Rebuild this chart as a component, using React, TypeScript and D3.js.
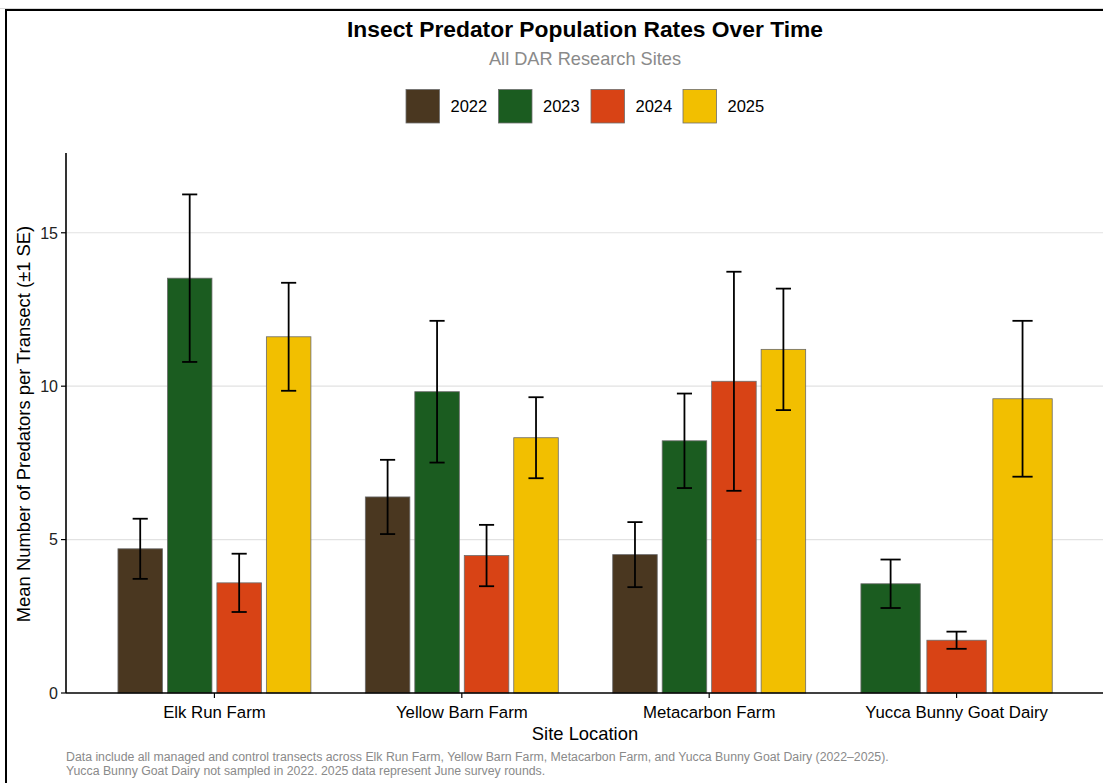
import React from "react";
import * as d3 from "d3";

const sites = ["Elk Run Farm", "Yellow Barn Farm", "Metacarbon Farm", "Yucca Bunny Goat Dairy"];
const years = ["2022", "2023", "2024", "2025"];
const yearColors = ["#4a3720", "#1b5c20", "#d84315", "#f2bf00"];

// mean per site, one array per year (null = not sampled)
const mean2022 = [4.7, 6.39, 4.51, null];
const mean2023 = [13.52, 9.82, 8.22, 3.56];
const mean2024 = [3.59, 4.48, 10.16, 1.72];
const mean2025 = [11.61, 8.32, 11.2, 9.59];

// standard error per site
const se2022 = [0.98, 1.21, 1.06, null];
const se2023 = [2.73, 2.31, 1.54, 0.79];
const se2024 = [0.95, 1.0, 3.57, 0.28];
const se2025 = [1.76, 1.32, 1.98, 2.54];

const yTicks = [0, 5, 10, 15];

const title = "Insect Predator Population Rates Over Time";
const subtitle = "All DAR Research Sites";
const xTitle = "Site Location";
const yTitle = "Mean Number of Predators per Transect (±1 SE)";
const caption1 =
  "Data include all managed and control transects across Elk Run Farm, Yellow Barn Farm, Metacarbon Farm, and Yucca Bunny Goat Dairy (2022–2025).";
const caption2 = "Yucca Bunny Goat Dairy not sampled in 2022. 2025 data represent June survey rounds.";

const W = 1103;
const H = 783;
const FONT = "'Liberation Sans', Arial, Helvetica, sans-serif";

export default function App() {
  const left = 66;
  const right = 1105;
  const top = 153;
  const bottom = 693;

  const means = [mean2022, mean2023, mean2024, mean2025];
  const ses = [se2022, se2023, se2024, se2025];

  const x = d3.scalePoint<string>().domain(sites).range([left, right]).padding(0.6);
  const y = d3.scaleLinear().domain([0, 17.6]).range([bottom, top]);
  const groupW = x.step() * 0.8;

  const bars: any[] = [];
  sites.forEach((s, si) => {
    const present = years.map((yr, yi) => yi).filter((yi) => means[yi][si] != null);
    const slot = groupW / present.length;
    const inner = d3.scaleBand<number>().domain(present).range([x(s)! - groupW / 2, x(s)! + groupW / 2]);
    present.forEach((yi) => {
      const m = means[yi][si] as number;
      const e = ses[yi][si] as number;
      const cx = inner(yi)! + inner.bandwidth() / 2;
      bars.push({ key: s + yi, cx, w: slot * 0.9, m, e, color: yearColors[yi] });
    });
  });

  const legendX = [406, 498.5, 591, 683];

  return (
    <svg width={W} height={H} style={{ position: "absolute", left: 0, top: 0 }} fontFamily={FONT}>
      <rect x={0} y={0} width={W} height={H} fill="#fff" />
      <line x1={0} x2={W} y1={8.5} y2={8.5} stroke="#d8d8d8" />
      <rect x={6} y={10} width={W + 20} height={H + 20} fill="none" stroke="#000" strokeWidth={2} />

      {/* title block */}
      <text x={585} y={37} textAnchor="middle" fontSize={22.8} fontWeight="bold" fill="#000">
        {title}
      </text>
      <text x={585} y={65} textAnchor="middle" fontSize={18.2} fill="#8a8a8a">
        {subtitle}
      </text>

      {/* legend */}
      {years.map((yr, i) => (
        <g key={yr}>
          <rect x={legendX[i]} y={89.5} width={33.5} height={33.5} fill={yearColors[i]} stroke="#6e6e6e" strokeWidth={0.8} />
          <text x={legendX[i] + 44.5} y={112} fontSize={16.5} fill="#000">
            {yr}
          </text>
        </g>
      ))}

      {/* grid */}
      {yTicks.filter((t) => t > 0).map((t) => (
        <line key={t} x1={left} x2={right} y1={y(t)} y2={y(t)} stroke="#e2e2e2" strokeWidth={1.2} />
      ))}

      {/* bars */}
      {bars.map((b) => (
        <rect
          key={b.key}
          x={b.cx - b.w / 2}
          y={y(b.m)}
          width={b.w}
          height={y(0) - y(b.m)}
          fill={b.color}
          stroke="#6b6b6b"
          strokeWidth={0.8}
        />
      ))}

      {/* error bars */}
      {bars.map((b) => {
        const cw = b.w * 0.34;
        const y1 = y(b.m + b.e);
        const y2 = y(b.m - b.e);
        return (
          <g key={"e" + b.key} stroke="#000" strokeWidth={1.8}>
            <line x1={b.cx} x2={b.cx} y1={y1} y2={y2} />
            <line x1={b.cx - cw / 2} x2={b.cx + cw / 2} y1={y1} y2={y1} />
            <line x1={b.cx - cw / 2} x2={b.cx + cw / 2} y1={y2} y2={y2} />
          </g>
        );
      })}

      {/* axes */}
      <line x1={left} x2={left} y1={top} y2={bottom} stroke="#000" strokeWidth={1.6} />
      <line x1={left} x2={right} y1={bottom} y2={bottom} stroke="#000" strokeWidth={1.6} />
      {yTicks.map((t) => (
        <g key={"yt" + t}>
          <line x1={left - 5} x2={left} y1={y(t)} y2={y(t)} stroke="#000" strokeWidth={1.2} />
          <text x={left - 8} y={y(t)} dy="0.36em" textAnchor="end" fontSize={16} fill="#222">
            {t}
          </text>
        </g>
      ))}
      {sites.map((s) => (
        <g key={"xt" + s}>
          <line x1={x(s)} x2={x(s)} y1={bottom} y2={bottom + 5} stroke="#000" strokeWidth={1.2} />
          <text x={x(s)} y={bottom + 25} textAnchor="middle" fontSize={16.8} fill="#000">
            {s}
          </text>
        </g>
      ))}
      <text x={585} y={740} textAnchor="middle" fontSize={18.4} fill="#000">
        {xTitle}
      </text>
      <text
        transform={`translate(30,${(top + bottom) / 2 + 1}) rotate(-90)`}
        textAnchor="middle"
        fontSize={18.4}
        fill="#000"
      >
        {yTitle}
      </text>

      {/* caption */}
      <text x={66} y={761} fontSize={12.3} fill="#8a8a8a">
        {caption1}
      </text>
      <text x={66} y={775} fontSize={12.3} fill="#8a8a8a">
        {caption2}
      </text>
    </svg>
  );
}
